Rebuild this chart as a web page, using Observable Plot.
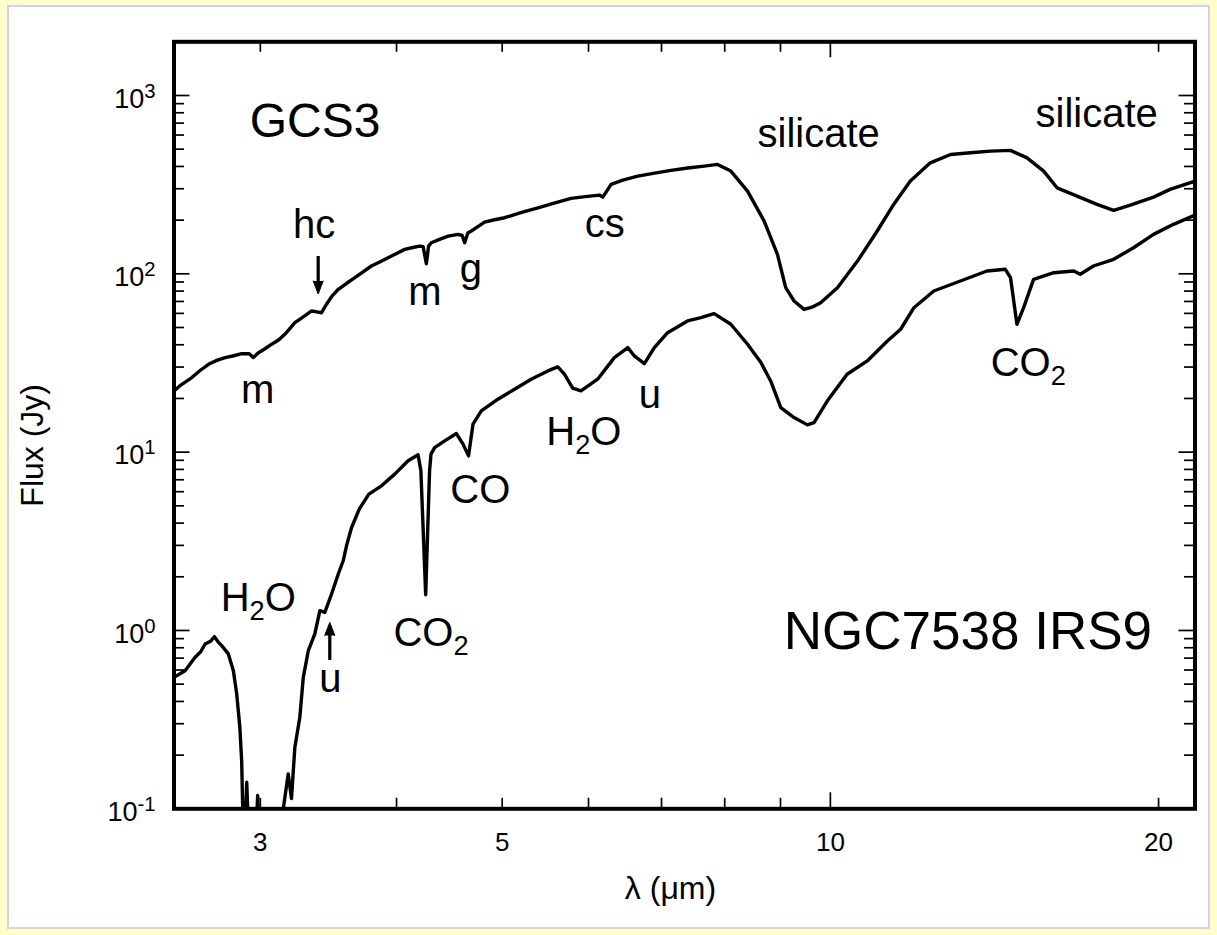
<!DOCTYPE html>
<html>
<head>
<meta charset="utf-8">
<script src="https://cdn.jsdelivr.net/npm/d3@7"></script>
<script src="https://cdn.jsdelivr.net/npm/@observablehq/plot@0.6"></script>
<style>
  html, body { margin: 0; padding: 0; }
  body { width: 1217px; height: 935px; background: #ffffcc; position: relative; overflow: hidden; }
  #panel { position: absolute; left: 7px; top: 5px; width: 1203px; height: 924px; box-sizing: border-box;
           background: #ffffff; border: 2px solid #cfd0f4; }
  #chart { position: absolute; left: 0; top: 0; }
</style>
</head>
<body>
<div id="panel"></div>
<div id="chart"></div>
<script>
// GCS3 spectrum: wavelength (µm) and flux density (Jy)
const gcs3Lambda = [2.50, 2.53, 2.596, 2.64, 2.689, 2.74, 2.785, 2.83, 2.884, 2.93, 2.956, 2.988, 3.03, 3.073, 3.12, 3.159, 3.19, 3.227, 3.28, 3.343, 3.38, 3.414, 3.450, 3.49, 3.537, 3.60, 3.663, 3.73, 3.793, 3.86, 3.929, 4.00, 4.069, 4.14, 4.201, 4.231, 4.260, 4.280, 4.305, 4.38, 4.461, 4.555, 4.595, 4.619, 4.65, 4.684, 4.75, 4.817, 4.92, 5.025, 5.20, 5.393, 5.58, 5.783, 5.96, 6.140, 6.184, 6.293, 6.45, 6.658, 6.90, 7.141, 7.40, 7.661, 7.880, 8.104, 8.395, 8.695, 8.942, 9.100, 9.262, 9.459, 9.62, 9.797, 10.15, 10.59, 11.04, 11.43, 11.84, 12.35, 12.89, 13.44, 14.03, 14.63, 15.15, 15.69, 16.14, 16.84, 17.56, 18.19, 18.84, 19.79, 20.49, 21.6];
const gcs3Flux = [22.0, 23.5, 26.2, 28.6, 31.1, 32.8, 33.9, 34.6, 35.7, 35.6, 33.9, 36.1, 38.0, 40.3, 42.7, 45.8, 49.0, 53.2, 57.0, 61.9, 61.2, 60.5, 67.5, 75.0, 81.9, 88.5, 95.1, 103, 110.6, 116.5, 123.0, 130.0, 137.1, 140.5, 143.1, 142, 113.9, 143, 149.4, 156, 162.8, 166.4, 164, 149.4, 169.3, 173.8, 184, 195, 201, 206.3, 220, 234.5, 249, 264.8, 271, 276.4, 269.2, 317.1, 335, 353.2, 367, 380, 392, 401.6, 410.7, 376.7, 291.0, 197.6, 128.6, 83.6, 70.4, 63.2, 65, 68.9, 83.6, 117.9, 173.8, 245, 331.1, 419, 467, 477, 487.5, 492, 447, 376.7, 303.6, 272.9, 245, 226.8, 242.8, 269.2, 297.4, 331];

// NGC7538 IRS9 spectrum: wavelength (µm) and flux density (Jy); 0.08 marks points below the plotted range
const irs9Lambda = [2.50, 2.559, 2.614, 2.645, 2.670, 2.70, 2.723, 2.745, 2.765, 2.804, 2.834, 2.854, 2.873, 2.884, 2.893, 2.905, 2.915, 2.925, 2.975, 2.983, 2.99, 3.14, 3.149, 3.182, 3.204, 3.227, 3.261, 3.285, 3.320, 3.366, 3.402, 3.438, 3.487, 3.537, 3.574, 3.599, 3.637, 3.698, 3.773, 3.875, 3.985, 4.099, 4.186, 4.211, 4.254, 4.289, 4.302, 4.335, 4.428, 4.539, 4.603, 4.657, 4.701, 4.784, 4.955, 5.132, 5.315, 5.506, 5.623, 5.702, 5.803, 5.905, 6.117, 6.336, 6.519, 6.610, 6.751, 6.895, 7.091, 7.396, 7.607, 7.823, 8.104, 8.395, 8.636, 8.815, 9.006, 9.262, 9.526, 9.660, 9.937, 10.36, 10.81, 11.28, 11.60, 11.93, 12.44, 13.16, 13.92, 14.47, 14.63, 14.83, 15.04, 15.36, 16.03, 16.72, 16.95, 17.43, 18.19, 18.97, 19.79, 20.64, 21.6];
const irs9Flux = [0.546, 0.595, 0.707, 0.76, 0.840, 0.87, 0.923, 0.86, 0.822, 0.739, 0.595, 0.441, 0.2866, 0.1865, 0.08, 0.08, 0.141, 0.08, 0.08, 0.1187, 0.08, 0.08, 0.1, 0.157, 0.114, 0.2214, 0.326, 0.546, 0.770, 0.956, 1.291, 1.263, 1.601, 2.073, 2.46, 2.985, 3.766, 4.81, 5.817, 6.475, 7.53, 8.94, 9.66, 7.86, 1.587, 7.86, 9.74, 10.6, 11.57, 12.71, 11.09, 9.53, 14.35, 17.03, 19.81, 22.54, 25.64, 28.54, 30.06, 27.35, 22.83, 22.05, 25.64, 33.88, 38.55, 34.63, 31.36, 38.55, 46.77, 54.4, 56.76, 59.77, 52.13, 40.27, 31.77, 25.08, 17.78, 15.62, 14.22, 14.65, 19.39, 27.35, 32.47, 42.03, 48.87, 64.57, 80.1, 91.1, 103.7, 106.0, 95.1, 52.1, 64.6, 93.1, 101.4, 103.7, 99.4, 110.6, 120.6, 140.0, 166.4, 189.4, 213.5];

// Axis ticks
const xMajorTicks = [10];
const xMinorTicks = [3, 4, 5, 6, 7, 8, 9, 20];
const xTickLabels = [3, 5, 10, 20];
const yMajorTicks = [0.1, 1, 10, 100, 1000];
const yMinorTicks = [0.2, 0.3, 0.4, 0.5, 0.6, 0.7, 0.8, 0.9,
                     2, 3, 4, 5, 6, 7, 8, 9,
                     20, 30, 40, 50, 60, 70, 80, 90,
                     200, 300, 400, 500, 600, 700, 800, 900];

// Feature labels ("_" marks a subscript), anchored at their text baseline
const centeredLabels = [
  {text: "silicate", lam: 9.757, flux: 513},
  {text: "silicate", lam: 17.55, flux: 664},
  {text: "hc", lam: 3.361, flux: 158.1},
  {text: "m", lam: 4.246, flux: 66.9},
  {text: "g", lam: 4.679, flux: 89.9},
  {text: "m", lam: 2.983, flux: 18.96},
  {text: "cs", lam: 6.209, flux: 160.8},
  {text: "u", lam: 6.831, flux: 17.78},
  {text: "CO", lam: 4.774, flux: 5.153},
  {text: "u", lam: 3.479, flux: 0.45}
];
const startLabels = [
  {text: "CO_2", lam: 14.03, flux: 26.76},
  {text: "H_2O", lam: 5.488, flux: 10.99},
  {text: "CO_2", lam: 3.974, flux: 0.822},
  {text: "H_2O", lam: 2.759, flux: 1.291}
];
const sourceNames = [
  {text: "GCS3", lam: 2.933, flux: 584, size: 48},
  {text: "NGC7538 IRS9", lam: 9.063, flux: 0.791, size: 53}
];

// Arrows marking weak features: shaft from tail to head base, head tip
const arrows = [
  {tailLam: 3.390, tailFlux: 125.8, baseFlux: 88, tipFlux: 77.1, dir: 180},
  {tailLam: 3.474, tailFlux: 0.6835, baseFlux: 0.95, tipFlux: 1.11, dir: 0}
];

const spectra = [
  ...gcs3Lambda.map((l, i) => ({source: "GCS3", lam: l, flux: gcs3Flux[i]})),
  ...irs9Lambda.map((l, i) => ({source: "NGC7538 IRS9", lam: l, flux: irs9Flux[i]}))
];

const W = 1217, H = 935;
const mL = 173.5, mR = 22.5, mT = 41.3, mB = 126.7;
const frameW = W - mL - mR, frameH = H - mT - mB;
const majorLen = 16, minorLen = 10.5;
const tickW = 1.7;

const chart = Plot.plot({
  width: W,
  height: H,
  marginLeft: mL,
  marginRight: mR,
  marginTop: mT,
  marginBottom: mB,
  style: {background: "transparent", fontFamily: "'Liberation Sans', Arial, Helvetica, sans-serif", color: "black"},
  x: {type: "log", domain: [2.5, 21.6], axis: null},
  y: {type: "log", domain: [0.1, 2000], axis: null},
  marks: [
    // inward ticks on all four sides
    Plot.tickY(yMajorTicks, {y: d => d, insetRight: frameW - majorLen, strokeWidth: tickW}),
    Plot.tickY(yMinorTicks, {y: d => d, insetRight: frameW - minorLen, strokeWidth: tickW}),
    Plot.tickY(yMajorTicks, {y: d => d, insetLeft: frameW - majorLen, strokeWidth: tickW}),
    Plot.tickY(yMinorTicks, {y: d => d, insetLeft: frameW - minorLen, strokeWidth: tickW}),
    Plot.tickX(xMajorTicks, {x: d => d, insetTop: frameH - majorLen, strokeWidth: tickW}),
    Plot.tickX(xMinorTicks, {x: d => d, insetTop: frameH - minorLen, strokeWidth: tickW}),
    Plot.tickX(xMajorTicks, {x: d => d, insetBottom: frameH - majorLen, strokeWidth: tickW}),
    Plot.tickX(xMinorTicks, {x: d => d, insetBottom: frameH - minorLen, strokeWidth: tickW}),

    // spectra
    Plot.line(spectra, {x: "lam", y: "flux", z: "source", stroke: "black", strokeWidth: 3.4,
      strokeLinejoin: "round", strokeLinecap: "round", clip: true}),

    // arrows
    Plot.link(arrows, {x1: "tailLam", y1: "tailFlux", x2: "tailLam", y2: "baseFlux", stroke: "black", strokeWidth: 3.2}),
    Plot.vector(arrows, {x: "tailLam", y: "tipFlux", rotate: "dir", length: 13, r: 5, shape: "spike",
      anchor: "end", fill: "black", stroke: "black", strokeWidth: 1}),

    // frame
    Plot.frame({stroke: "black", strokeWidth: 4}),

    // tick labels
    Plot.text(yMajorTicks, {y: d => d, frameAnchor: "left", dx: -18.5, dy: 3.4, textAnchor: "end",
      lineAnchor: "middle", fontSize: 27, text: d => "10^" + Math.round(Math.log10(d))}),
    Plot.text(xTickLabels, {x: d => d, frameAnchor: "bottom", dy: 42, lineAnchor: "bottom",
      fontSize: 26, text: d => String(d)}),

    // axis titles
    Plot.text(["λ (μm)"], {frameAnchor: "bottom", dx: -14, dy: 90, lineAnchor: "bottom", fontSize: 32}),
    Plot.text(["Flux (Jy)"], {frameAnchor: "left", dx: -141.5, dy: 20, rotate: -90, textAnchor: "middle",
      lineAnchor: "middle", fontSize: 32}),

    // annotations
    Plot.text(centeredLabels, {x: "lam", y: "flux", text: "text", lineAnchor: "bottom", fontSize: 40}),
    Plot.text(startLabels, {x: "lam", y: "flux", text: "text", textAnchor: "start", lineAnchor: "bottom", fontSize: 40}),
    Plot.text(sourceNames, {x: "lam", y: "flux", text: "text", textAnchor: "start", lineAnchor: "bottom", fontSize: "size"})
  ]
});

document.getElementById("chart").append(chart);

// Turn "^n" and "_n" into raised / lowered tspans
const SVGNS = "http://www.w3.org/2000/svg";
chart.querySelectorAll("text").forEach(node => {
  const s = node.textContent;
  if (!/[_^]/.test(s)) return;
  const fs = parseFloat(getComputedStyle(node).fontSize);
  node.textContent = "";
  let shift = 0;
  for (const part of s.split(/([_^]-?\d+)/).filter(p => p)) {
    const t = document.createElementNS(SVGNS, "tspan");
    let target = 0, txt = part;
    if (part[0] === "^") { target = -0.37 * fs; txt = part.slice(1); t.setAttribute("font-size", 0.75 * fs); }
    else if (part[0] === "_") { target = 0.23 * fs; txt = part.slice(1); t.setAttribute("font-size", 0.68 * fs); }
    if (target - shift !== 0) t.setAttribute("dy", target - shift);
    t.textContent = txt;
    shift = target;
    node.appendChild(t);
  }
});
</script>
</body>
</html>
